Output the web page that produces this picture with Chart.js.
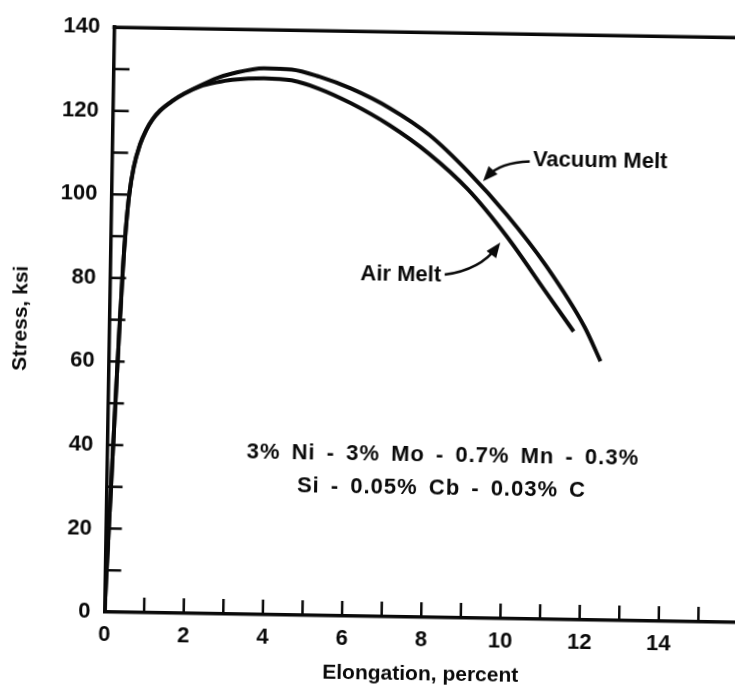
<!DOCTYPE html>
<html>
<head>
<meta charset="utf-8">
<title>Stress vs Elongation</title>
<script src="https://cdn.jsdelivr.net/npm/chart.js@4.4.1/dist/chart.umd.min.js"></script>
<style>
  html, body { margin: 0; padding: 0; background: #fff; width: 735px; height: 690px; overflow: hidden; }
  /* the whole sheet sits a touch crooked, turned about the origin */
  #sheet { position: absolute; left: 0; top: 0; width: 760px; height: 690px;
           transform: rotate(0.95deg); transform-origin: 104.5px 612px; }
</style>
</head>
<body>
<div id="sheet"><canvas id="chartStress" width="760" height="690"></canvas></div>
<script>
// elongation (%) and stress (ksi) for each melt
var airStrain = [0, 0.15, 0.25, 0.32, 0.38, 0.45, 0.55, 0.7, 0.85, 1.0, 1.2, 1.5, 1.8, 2.2, 2.6, 3.0, 3.8, 4.5, 5.2, 6.0, 7.0, 8.0, 9.0, 10.0, 11.0, 11.73];
var airStress = [0, 40, 66, 82, 92, 100, 106.5, 112, 115.5, 118, 120.3, 122.6, 124.4, 126.2, 127.2, 127.9, 128.4, 128.0, 126.1, 122.8, 117.6, 111.0, 102.6, 91.5, 78.5, 69.0];

var vacuumStrain = [0, 0.15, 0.25, 0.32, 0.38, 0.45, 0.55, 0.7, 0.85, 1.0, 1.2, 1.5, 1.8, 2.2, 2.6, 3.0, 3.8, 4.5, 5.2, 6.0, 7.0, 8.0, 9.0, 10.0, 11.0, 12.0, 12.42];
var vacuumStress = [0, 40, 66, 82, 92, 100, 106.5, 112, 115.5, 118, 120.3, 122.6, 124.4, 126.4, 128.2, 129.4, 130.8, 130.6, 129.0, 126.3, 121.7, 115.5, 106.8, 96.6, 84.7, 70.2, 62.0];

// which ticks get a number
var xLabelValues = [0, 2, 4, 6, 8, 10, 12, 14];
var yLabelValues = [0, 20, 40, 60, 80, 100, 120, 140];

var seriesNames = ['Air Melt', 'Vacuum Melt'];
var alloyLines = ['3% Ni - 3% Mo - 0.7% Mn - 0.3%', 'Si - 0.05% Cb - 0.03% C'];

var ink = '#0a0a0a';
var face = "'Liberation Sans', Arial, sans-serif";

function toPoints(xs, ys) {
    return xs.map(function (v, i) { return {x: v, y: ys[i]}; });
}

// arrow with a bent shaft and a filled head
function arrow(ctx, x0, y0, cx, cy, x1, y1) {
    var ang = Math.atan2(y1 - cy, x1 - cx);
    var len = 15, half = 6;
    ctx.beginPath();
    ctx.moveTo(x0, y0);
    ctx.quadraticCurveTo(cx, cy, x1 - 6 * Math.cos(ang), y1 - 6 * Math.sin(ang));
    ctx.lineWidth = 2.5;
    ctx.stroke();
    ctx.beginPath();
    ctx.moveTo(x1, y1);
    ctx.lineTo(x1 - len * Math.cos(ang) + half * Math.sin(ang), y1 - len * Math.sin(ang) - half * Math.cos(ang));
    ctx.lineTo(x1 - len * Math.cos(ang) - half * Math.sin(ang), y1 - len * Math.sin(ang) + half * Math.cos(ang));
    ctx.closePath();
    ctx.fill();
}

var frameAndNotes = {
    id: 'frameAndNotes',
    afterDraw: function (chart) {
        var ctx = chart.ctx;
        var a = chart.chartArea;
        var sx = chart.scales.x, sy = chart.scales.y;
        ctx.save();
        ctx.strokeStyle = ink;
        ctx.fillStyle = ink;
        ctx.lineCap = 'butt';

        // top edge of the frame
        ctx.lineWidth = 3.5;
        ctx.beginPath();
        ctx.moveTo(a.left - 1.75, a.top);
        ctx.lineTo(a.right, a.top);
        ctx.stroke();

        // tick marks pointing into the plot
        ctx.lineWidth = 2.5;
        sx.ticks.forEach(function (t) {
            if (t.value <= 0 || t.value >= sx.max) return;
            var px = sx.getPixelForValue(t.value);
            ctx.beginPath();
            ctx.moveTo(px, a.bottom);
            ctx.lineTo(px, a.bottom - 15);
            ctx.stroke();
        });
        sy.ticks.forEach(function (t) {
            if (t.value <= 0 || t.value >= sy.max) return;
            var py = sy.getPixelForValue(t.value);
            ctx.beginPath();
            ctx.moveTo(a.left, py);
            ctx.lineTo(a.left + 16, py);
            ctx.stroke();
        });

        // curve labels and arrows
        ctx.font = 'bold 22px ' + face;
        ctx.textBaseline = 'middle';
        ctx.textAlign = 'left';
        ctx.fillText(seriesNames[1], sx.getPixelForValue(10.63), sy.getPixelForValue(109.8));
        arrow(ctx,
            sx.getPixelForValue(10.55), sy.getPixelForValue(109.5),
            sx.getPixelForValue(9.8), sy.getPixelForValue(109.2),
            sx.getPixelForValue(9.38), sy.getPixelForValue(104.6));

        ctx.textAlign = 'right';
        ctx.fillText(seriesNames[0], sx.getPixelForValue(8.36), sy.getPixelForValue(82.0));
        arrow(ctx,
            sx.getPixelForValue(8.45), sy.getPixelForValue(82.1),
            sx.getPixelForValue(9.34), sy.getPixelForValue(83.4),
            sx.getPixelForValue(9.84), sy.getPixelForValue(90.0));

        // alloy composition
        ctx.textAlign = 'center';
        ctx.font = 'bold 22px ' + face;
        if ('letterSpacing' in ctx) ctx.letterSpacing = '1px';
        if ('wordSpacing' in ctx) ctx.wordSpacing = '4px';
        ctx.fillText(alloyLines[0], sx.getPixelForValue(8.48), sy.getPixelForValue(38.7));
        ctx.fillText(alloyLines[1], sx.getPixelForValue(8.46), sy.getPixelForValue(30.9));
        ctx.restore();
    }
};

function lineSet(label, xs, ys) {
    return {
        label: label,
        data: toPoints(xs, ys),
        showLine: true,
        borderColor: ink,
        borderWidth: 4,
        pointRadius: 0,
        fill: false,
        cubicInterpolationMode: 'monotone'
    };
}

var ctxStress = document.getElementById('chartStress').getContext('2d');
var chartStress = new Chart(ctxStress, {
    type: 'scatter',
    data: {
        datasets: [
            lineSet(seriesNames[0], airStrain, airStress),
            lineSet(seriesNames[1], vacuumStrain, vacuumStress)
        ]
    },
    options: {
        responsive: false,
        animation: false,
        devicePixelRatio: 1,
        layout: {padding: {left: 0, top: 24, right: 22, bottom: 0}},
        plugins: {
            legend: {display: false},
            tooltip: {enabled: false}
        },
        scales: {
            x: {
                type: 'linear',
                min: 0,
                max: 16,
                afterFit: function (scale) { scale.height = 78; },
                grid: {drawOnChartArea: false, drawTicks: false},
                border: {display: true, color: ink, width: 3.5},
                ticks: {
                    stepSize: 1,
                    autoSkip: false,
                    maxRotation: 0,
                    padding: 10,
                    color: ink,
                    font: {family: face, size: 22, weight: 'bold'},
                    callback: function (v) { return xLabelValues.indexOf(v) >= 0 ? String(v) : ''; }
                },
                title: {
                    display: true,
                    text: 'Elongation, percent',
                    color: ink,
                    font: {family: face, size: 21, weight: 'bold'},
                    padding: {top: 0, bottom: 8}
                }
            },
            y: {
                type: 'linear',
                min: 0,
                max: 140,
                afterFit: function (scale) { scale.width = 104.5; },
                grid: {drawOnChartArea: false, drawTicks: false},
                border: {display: true, color: ink, width: 3.5},
                ticks: {
                    stepSize: 10,
                    autoSkip: false,
                    padding: 14,
                    color: ink,
                    font: {family: face, size: 22, weight: 'bold'},
                    callback: function (v) { return yLabelValues.indexOf(v) >= 0 ? String(v) : ''; }
                },
                title: {
                    display: true,
                    text: 'Stress, ksi',
                    color: ink,
                    font: {family: face, size: 21, weight: 'bold'},
                    padding: {top: 4, bottom: 0}
                }
            }
        }
    },
    plugins: [frameAndNotes]
});
</script>
</body>
</html>
